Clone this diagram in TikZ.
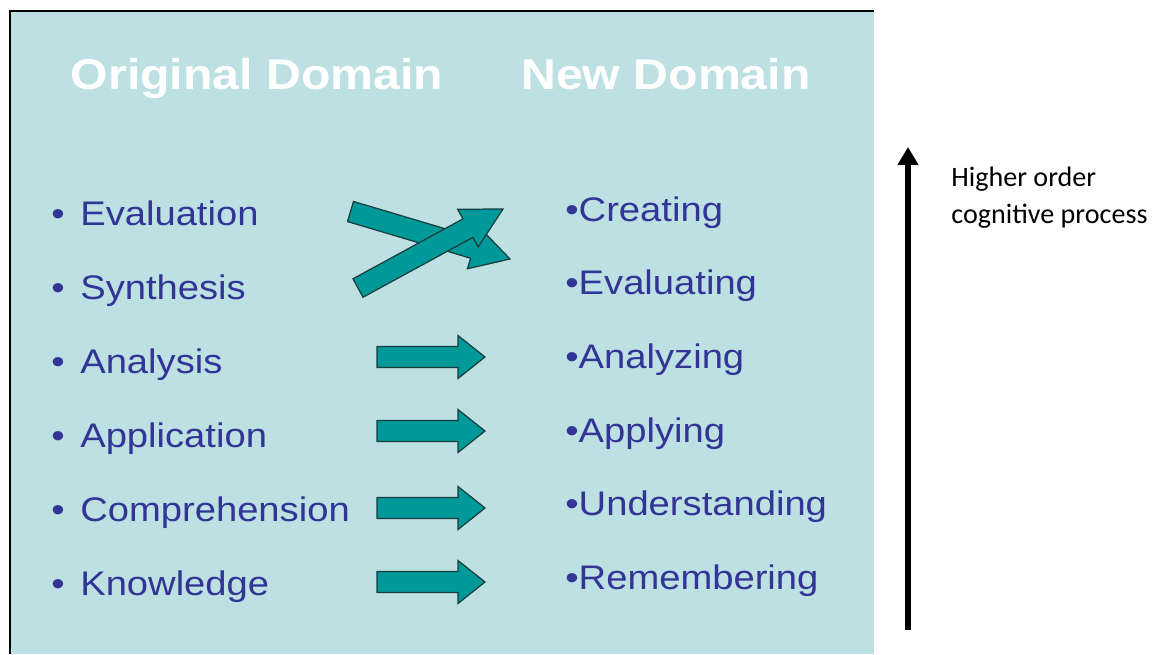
\documentclass[tikz,border=0pt]{standalone}
\usepackage{fontspec}
\usetikzlibrary{calc,arrows.meta}
\newfontfamily\slidefont[FakeStretch=1.12]{Liberation Sans}
\newfontfamily\notefont{Carlito}

\definecolor{panelbg}{RGB}{189,224,227}
\definecolor{itemblue}{RGB}{50,52,150}
\definecolor{arrteal}{RGB}{0,153,153}
\definecolor{arrline}{RGB}{25,60,60}

\tikzstyle{heading} = [anchor=base,inner sep=0pt,text=white,font=\slidefont\bfseries\fontsize{24.5}{28}\selectfont]
\tikzstyle{olditem} = [anchor=base west,inner sep=0pt,text=itemblue,font=\slidefont\fontsize{19.4}{23}\selectfont]
\tikzstyle{newitem} = [olditem]
\tikzstyle{fatarr} = [fill=arrteal,draw=arrline,line width=0.7pt,line join=miter]

% fat block arrow: tail, tip, head length
\newcommand\fatarrow[3]{%
	\filldraw[fatarr] ($(#1)!0.21cm!90:(#2)$)
		-- ($(#2)!#3!(#1)!0.21cm!-90:(#1)$)
		-- ($(#2)!#3!(#1)!0.43cm!-90:(#1)$)
		-- (#2)
		-- ($(#2)!#3!(#1)!0.43cm!90:(#1)$)
		-- ($(#2)!#3!(#1)!0.21cm!90:(#1)$)
		-- ($(#1)!0.21cm!-90:(#2)$) -- cycle;}

\begin{document}
\begin{tikzpicture}[x=0.02cm,y=0.02cm]
	\useasboundingbox (0,0) rectangle (1163,654);
	\fill[panelbg] (10,0) rectangle (874,643);
	\draw[line width=0.9pt] (10,0) -- (10,643) -- (874,643);

	\node[heading] (orig) at (257,565) {Original Domain};
	\node[heading] (new) at (666,565) {New Domain};

	\node[olditem] (o1) at (51,429) {\makebox[0.85em][l]{•}Evaluation};
	\node[olditem] (o2) at (51,355) {\makebox[0.85em][l]{•}Synthesis};
	\node[olditem] (o3) at (51,281) {\makebox[0.85em][l]{•}Analysis};
	\node[olditem] (o4) at (51,207) {\makebox[0.85em][l]{•}Application};
	\node[olditem] (o5) at (51,133) {\makebox[0.85em][l]{•}Comprehension};
	\node[olditem] (o6) at (51,59) {\makebox[0.85em][l]{•}Knowledge};

	\node[newitem] (n1) at (565,433) {•Creating};
	\node[newitem] (n2) at (565,360) {•Evaluating};
	\node[newitem] (n3) at (565,286) {•Analyzing};
	\node[newitem] (n4) at (565,212) {•Applying};
	\node[newitem] (n5) at (565,139) {•Understanding};
	\node[newitem] (n6) at (565,65) {•Remembering};

	% crossing arrows
	\coordinate (evtail) at (350.5,442.5);
	\coordinate (evtip) at (510,395);
	\coordinate (sytail) at (358,366);
	\coordinate (sytip) at (503,445);
	\fatarrow{evtail}{evtip}{0.76cm}
	\fatarrow{sytail}{sytip}{0.8cm}

	% straight arrows
	\coordinate (antail) at (377,297);
	\coordinate (antip) at (485,297);
	\coordinate (aptail) at (377,223);
	\coordinate (aptip) at (485,223);
	\coordinate (cotail) at (377,146);
	\coordinate (cotip) at (485,146);
	\coordinate (kntail) at (377,72);
	\coordinate (kntip) at (485,72);
	\fatarrow{antail}{antip}{0.54cm}
	\fatarrow{aptail}{aptip}{0.54cm}
	\fatarrow{cotail}{cotip}{0.54cm}
	\fatarrow{kntail}{kntip}{0.54cm}

	% order arrow
	\coordinate (low) at (908,24);
	\coordinate (high) at (908,507);
	\draw[line width=3.4pt,-{Triangle[length=0.36cm,width=0.4cm]}] (low) -- (high);
	\node[anchor=west,inner sep=0pt,align=left,font=\notefont\fontsize{16}{21}\selectfont] (note) at (951,456.5) {Higher order\\cognitive process};
\end{tikzpicture}
\end{document}
